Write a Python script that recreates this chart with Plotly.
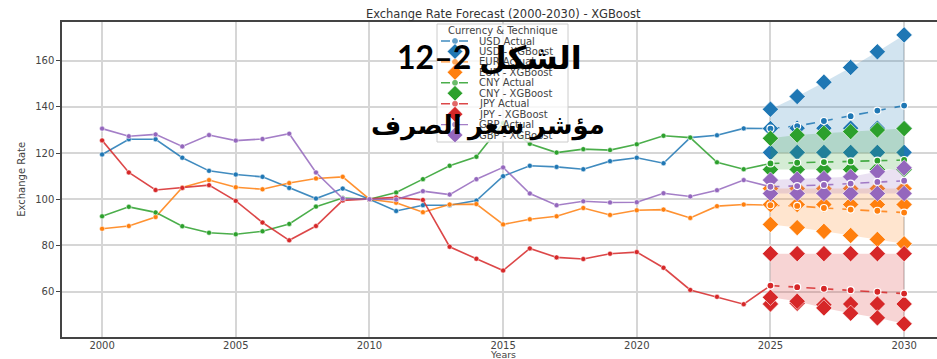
import plotly.graph_objects as go

# ---------------- data ----------------
years_hist = list(range(2000, 2026))
years_fc = list(range(2025, 2031))

currencies = ["USD", "EUR", "CNY", "JPY", "GBP"]
colors = ["#1f77b4", "#ff7f0e", "#2ca02c", "#d62728", "#9467bd"]

usd_actual = [119.4, 126.0, 126.0, 118.0, 112.3, 110.7, 109.7, 104.9, 100.3, 104.6,
              100.0, 94.9, 97.4, 97.4, 99.4, 110.0, 114.5, 114.0, 113.0, 116.5,
              118.0, 115.6, 126.7, 127.7, 130.7, 130.6]
eur_actual = [87.2, 88.4, 92.3, 105.1, 108.3, 105.2, 104.3, 107.0, 109.0, 109.7,
              100.0, 98.5, 94.4, 97.7, 97.9, 89.1, 91.3, 92.6, 96.2, 93.2,
              95.2, 95.5, 91.9, 97.0, 97.7, 97.4]
cny_actual = [92.6, 96.7, 94.3, 88.3, 85.5, 84.8, 86.1, 89.3, 96.8, 100.5,
              100.0, 102.9, 108.7, 114.5, 118.4, 133.0, 124.0, 120.2, 121.7, 121.3,
              123.8, 127.5, 126.7, 116.0, 113.0, 115.5]
jpy_actual = [125.5, 111.6, 104.0, 104.9, 106.1, 99.3, 89.9, 82.2, 88.4, 99.5,
              100.0, 100.8, 99.7, 79.4, 74.2, 69.1, 78.7, 74.8, 74.1, 76.4,
              77.1, 70.3, 60.7, 57.7, 54.5, 62.6]
gbp_actual = [130.6, 127.3, 128.1, 122.9, 127.8, 125.4, 126.1, 128.4, 111.6, 100.3,
              100.0, 99.9, 103.5, 102.0, 108.7, 113.8, 102.5, 97.4, 99.1, 98.6,
              98.7, 102.6, 101.2, 103.9, 108.3, 105.4]

# projected path 2025-2030
usd_path = [130.6, 131.7, 133.9, 136.0, 138.4, 140.6]
eur_path = [97.4, 97.1, 96.2, 95.5, 95.0, 94.2]
cny_path = [115.5, 115.8, 116.1, 116.4, 116.7, 117.0]
jpy_path = [62.6, 61.9, 61.2, 60.6, 59.9, 59.1]
gbp_path = [105.4, 105.7, 106.2, 106.8, 107.5, 108.0]

# XGBoost forecast scenarios 2025-2030 (high / central / low)
usd_xgb_high = [139.0, 144.5, 150.7, 157.1, 163.9, 171.2]
usd_xgb_mid = [130.6, 130.8, 130.8, 130.8, 130.8, 130.8]
usd_xgb_low = [120.3, 120.3, 120.3, 120.3, 120.3, 120.3]

eur_xgb_high = [104.6, 104.6, 104.6, 104.6, 104.6, 104.6]
eur_xgb_mid = [97.7, 97.7, 97.7, 97.7, 97.7, 97.7]
eur_xgb_low = [89.1, 87.7, 86.1, 84.3, 82.6, 80.7]

cny_xgb_high = [126.4, 127.8, 128.6, 129.3, 130.0, 130.6]
cny_xgb_mid = None
cny_xgb_low = [112.9, 112.9, 112.9, 112.9, 112.9, 112.9]

jpy_xgb_high = [76.4, 76.4, 76.4, 76.4, 76.4, 76.4]
jpy_xgb_mid = [54.6, 54.9, 54.3, 54.6, 54.6, 54.6]
jpy_xgb_low = [57.5, 55.8, 52.9, 50.6, 48.6, 46.0]

gbp_xgb_high = [108.3, 108.7, 109.0, 109.7, 111.9, 113.6]
gbp_xgb_mid = None
gbp_xgb_low = [102.5, 102.5, 102.5, 102.5, 102.5, 102.5]

actuals = [usd_actual, eur_actual, cny_actual, jpy_actual, gbp_actual]
paths = [usd_path, eur_path, cny_path, jpy_path, gbp_path]
highs = [usd_xgb_high, eur_xgb_high, cny_xgb_high, jpy_xgb_high, gbp_xgb_high]
mids = [usd_xgb_mid, eur_xgb_mid, cny_xgb_mid, jpy_xgb_mid, gbp_xgb_mid]
lows = [usd_xgb_low, eur_xgb_low, cny_xgb_low, jpy_xgb_low, gbp_xgb_low]

x_ticks = [2000, 2005, 2010, 2015, 2020, 2025, 2030]
y_ticks = [60, 80, 100, 120, 140, 160]

title_text = "Exchange Rate Forecast (2000-2030) - XGBoost"
legend_title = "Currency & Technique"
overlay_line1 = "الشكل 2–12"
overlay_line2 = "مؤشر سعر الصرف"


def rgba(hex_color, a):
    h = hex_color.lstrip("#")
    r, g, b = int(h[0:2], 16), int(h[2:4], 16), int(h[4:6], 16)
    return f"rgba({r},{g},{b},{a})"


fig = go.Figure()

for cur, col, act, path, hi, mid, lo in zip(currencies, colors, actuals, paths, highs, mids, lows):
    # historical series
    fig.add_trace(go.Scatter(
        x=years_hist, y=act, mode="lines+markers",
        line=dict(color=rgba(col, 0.85), width=1.6),
        marker=dict(size=5, color=col, line=dict(color="white", width=0.5)),
        showlegend=False, name=f"{cur} Actual"))
    # uncertainty band between scenarios
    fig.add_trace(go.Scatter(
        x=years_fc + years_fc[::-1], y=hi + lo[::-1], mode="lines",
        fill="toself", fillcolor=rgba(col, 0.2), line=dict(width=0),
        hoverinfo="skip", showlegend=False))
    # projected path
    fig.add_trace(go.Scatter(
        x=years_fc, y=path, mode="lines+markers",
        line=dict(color=rgba(col, 0.85), width=1.6, dash="dash"),
        marker=dict(size=5, color=col),
        showlegend=False))
    # scenario markers
    for row in (hi, mid, lo):
        if row is None:
            continue
        fig.add_trace(go.Scatter(
            x=years_fc, y=row, mode="markers",
            marker=dict(symbol="diamond", size=12.5, color=col,
                        line=dict(color="white", width=0.6)),
            showlegend=False, name=f"{cur} - XGBoost"))
    # ringed markers on the projected path
    fig.add_trace(go.Scatter(
        x=years_fc, y=path, mode="markers",
        marker=dict(symbol="circle", size=7, color=col,
                    line=dict(color="white", width=1.2)),
        showlegend=False))

# ---------------- legend panel (drawn on an overlay axis in pixel units) ----------------
LX0, LX1, LY0, LY1 = 436, 569, 23, 143
fig.add_trace(go.Scatter(
    x=[437, 568, 568, 437, 437], y=[24, 24, 142, 142, 24], mode="lines",
    fill="toself", fillcolor="rgba(255,255,255,0.8)",
    line=dict(color="#cccccc", width=1), xaxis="x2", yaxis="y2",
    hoverinfo="skip", showlegend=False))

legend_labels = []
for cur in currencies:
    legend_labels += [f"{cur} Actual", f"{cur} - XGBoost"]
row_y = [41 + 10.45 * i for i in range(len(legend_labels))]

annotations = []
for i, (lab, yy) in enumerate(zip(legend_labels, row_y)):
    col = colors[i // 2]
    if i % 2 == 0:
        fig.add_trace(go.Scatter(
            x=[441, 455, 469], y=[yy, yy, yy], mode="lines+markers",
            line=dict(color=rgba(col, 0.85), width=1.4, dash="dash"),
            marker=dict(size=[0, 5, 0], color=col),
            xaxis="x2", yaxis="y2", hoverinfo="skip", showlegend=False))
    else:
        fig.add_trace(go.Scatter(
            x=[455], y=[yy], mode="markers",
            marker=dict(symbol="diamond", size=12, color=col,
                        line=dict(color="white", width=0.6)),
            xaxis="x2", yaxis="y2", hoverinfo="skip", showlegend=False))
    annotations.append(dict(
        x=477, y=yy, xref="x2", yref="y2", text=lab, showarrow=False,
        xanchor="left", yanchor="middle",
        font=dict(family="DejaVu Sans", size=10, color="#444")))

annotations.append(dict(
    x=503, y=31, xref="x2", yref="y2", text=legend_title, showarrow=False,
    xanchor="center", yanchor="middle",
    font=dict(family="DejaVu Sans", size=10, color="#444")))

# axis titles
annotations.append(dict(
    x=0.504, y=-0.054, xref="paper", yref="paper", text="Years", showarrow=False,
    xanchor="center", yanchor="middle",
    font=dict(family="DejaVu Sans", size=9.5, color="#444")))
annotations.append(dict(
    x=-0.0465, y=0.5, xref="paper", yref="paper", text="Exchange Rate", showarrow=False,
    textangle=-90, xanchor="center", yanchor="middle",
    font=dict(family="Liberation Sans Narrow, DejaVu Sans", size=10, color="#444")))

# Arabic caption overlay
annotations.append(dict(
    x=0.489, y=0.89, xref="paper", yref="paper", text=f"<b>{overlay_line1}</b>",
    showarrow=False, xanchor="center", yanchor="middle",
    font=dict(family="Lato, DejaVu Sans", size=32, color="black")))
annotations.append(dict(
    x=0.487, y=0.675, xref="paper", yref="paper", text=f"<b>{overlay_line2}</b>",
    showarrow=False, xanchor="center", yanchor="middle",
    font=dict(family="Lato, DejaVu Sans", size=26, color="black")))

fig.update_layout(
    width=937, height=359,
    margin=dict(l=62, r=0, t=22, b=22),
    paper_bgcolor="white", plot_bgcolor="rgba(0,0,0,0)",
    title=dict(text=title_text, x=0.537, xanchor="center", y=0.961, yanchor="middle",
               font=dict(family="DejaVu Sans", size=11.5, color="#333")),
    xaxis=dict(range=[1998.5, 2031.23], tickvals=x_ticks, showgrid=True,
               gridcolor="#d6d6d6", gridwidth=1.5, zeroline=False,
               showline=True, linecolor="#444", linewidth=1.5, mirror=True,
               ticks="", ticklabelstandoff=-2,
               tickfont=dict(family="DejaVu Sans", size=10, color="#444")),
    yaxis=dict(range=[40.3, 176.8], tickvals=y_ticks, showgrid=True,
               gridcolor="#d6d6d6", gridwidth=1.5, zeroline=False,
               showline=True, linecolor="#444", linewidth=1.5, mirror=False,
               ticks="outside", ticklen=4, tickcolor="#444",
               tickfont=dict(family="DejaVu Sans", size=10, color="#444")),
    xaxis2=dict(domain=[(LX0 - 62) / 875, (LX1 - 62) / 875], range=[LX0, LX1],
                visible=False, fixedrange=True),
    yaxis2=dict(domain=[(337 - LY1) / 315, (337 - LY0) / 315], range=[LY1, LY0],
                visible=False, fixedrange=True, anchor="x2"),
    annotations=annotations,
    showlegend=False,
)
fig.update_layout(xaxis2_anchor="y2")

fig.write_html("out.html")
